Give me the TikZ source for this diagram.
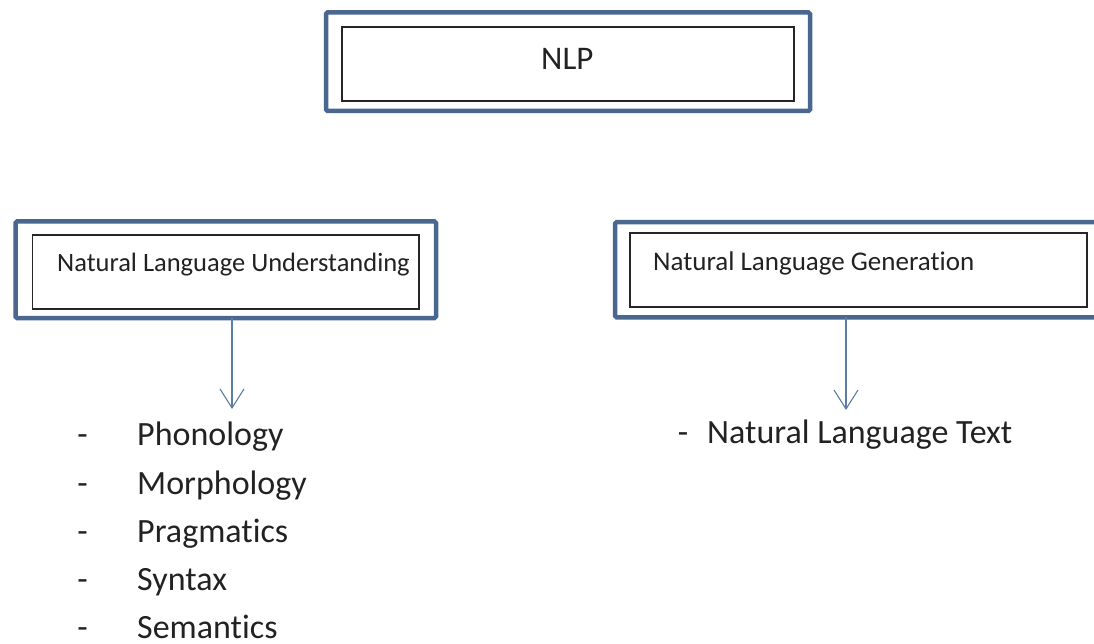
\documentclass[tikz,border=0pt]{standalone}
\usepackage{fontspec}
\setmainfont[Ligatures=NoCommon]{Carlito}
\usetikzlibrary{arrows.meta}
\definecolor{frameblue}{HTML}{4A6790}
\definecolor{arrowblue}{HTML}{5B7CA3}
\definecolor{ink}{HTML}{222222}
\begin{document}
\begin{tikzpicture}[x=1pt,y=-1pt,
  outerframe/.style={draw=frameblue, line width=4.5pt, rounded corners=1.5pt,
    minimum width=#1, inner sep=0pt, outer sep=0pt},
  innerframe/.style={draw=black!85, line width=1.4pt, fill=white,
    inner sep=0pt, outer sep=0pt},
  boxtext/.style={anchor=base west, inner sep=0pt, text=ink},
  itemtext/.style={anchor=base west, inner sep=0pt, text=ink,
    font=\fontsize{34}{40}\selectfont},
  itemdash/.style={anchor=base, inner sep=0pt, text=ink,
    font=\fontsize{34}{40}\selectfont},
  downarrow/.style={draw=arrowblue, line width=1.1pt,
    -{Straight Barb[length=19pt, width=24pt, line width=1.1pt]}}]
\useasboundingbox (0,0) rectangle (1094,644);
\clip (0,0) rectangle (1094,644);

% top box
\node[outerframe=484pt, minimum height=98.5pt] (nlpOuter) at (568,61.75) {};
\node[innerframe, minimum width=452pt, minimum height=74pt] (nlpInner) at (568,64) {};
\node[boxtext, font=\fontsize{33}{40}\selectfont] (nlpText) at (541,70) {NLP};

% understanding box
\node[outerframe=420.5pt, minimum height=96.5pt] (nluOuter) at (225.75,269.75) {};
\node[innerframe, minimum width=386.5pt, minimum height=74pt] (nluInner) at (225.75,272) {};
\node[boxtext, font=\fontsize{26.5}{32}\selectfont] (nluText) at (57,272) {Natural Language Understanding};

% generation box
\node[outerframe=485pt, minimum height=95pt] (nlgOuter) at (857.5,269.75) {};
\node[innerframe, minimum width=457pt, minimum height=74pt] (nlgInner) at (858.5,270) {};
\node[boxtext, font=\fontsize{27}{32}\selectfont] (nlgText) at (653,270) {Natural Language Generation};

% arrows
\coordinate (nluTip) at (232,409);
\coordinate (nlgTip) at (846,410);
\draw[downarrow] (nluOuter.south -| nluTip) -- (nluTip);
\draw[downarrow] (nlgOuter.south -| nlgTip) -- (nlgTip);

% understanding list
\foreach \y/\word [count=\i] in {445/Phonology, 494/Morphology, 542/Pragmatics, 590/Syntax, 638/Semantics} {
  \node[itemdash] (dash\i) at (82.5,\y) {-};
  \node[itemtext] (item\i) at (137,\y) {\word};
}

% generation output
\node[itemdash] (nltDash) at (683,443) {-};
\node[itemtext] (nltText) at (707,443) {Natural Language Text};
\end{tikzpicture}
\end{document}
